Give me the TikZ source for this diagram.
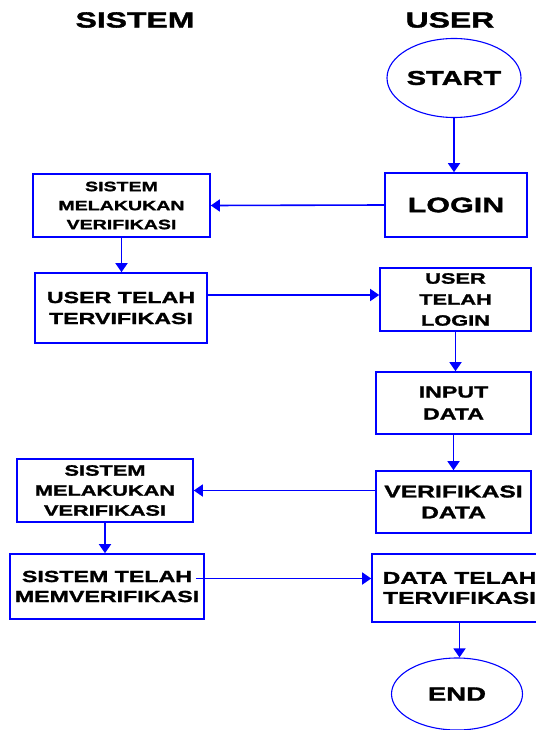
\documentclass[tikz,border=0pt]{standalone}
\usepackage{fontspec}
\usepackage{tikz}
\usetikzlibrary{shapes.geometric}
\usetikzlibrary{arrows.meta}
\newfontfamily\flowfont[FakeStretch=1.45,BoldFeatures={FakeBold=1.6}]{Liberation Sans}

\begin{document}
\begin{tikzpicture}[
        x=1pt, y=-1pt,
        every node/.style={align=center, inner sep=0pt},
        txt/.style 2 args={font=\flowfont\bfseries\fontsize{#1}{#2}\selectfont},
        procbox/.style={rectangle, draw=blue, line width=1.6pt},
        termnode/.style={ellipse, draw=blue, line width=1.1pt},
        flow/.style={draw=blue, line width=1.6pt, -{Triangle[length=9pt,width=12pt]}}
      ]
        \useasboundingbox (0,0) rectangle (535,730);

        \node[txt={22}{26}] (sistem) at (135,20) {SISTEM};
        \node[txt={22}{26}] (user) at (450,20) {USER};

        \node[termnode, txt={20}{24}, minimum width=134pt, minimum height=79pt] (start) at (454,78)
          {START};
        \node[procbox, txt={21}{24}, minimum width=142pt, minimum height=64pt] (login) at (456,205)
          {LOGIN};
        \node[procbox, txt={13.5}{19}, minimum width=177pt, minimum height=63pt] (verif1) at (121.5,205.5)
          {SISTEM\\MELAKUKAN\\VERIFIKASI};
        \node[procbox, txt={16}{21}, minimum width=172pt, minimum height=70pt] (utt) at (121,308)
          {USER TELAH\\TERVIFIKASI};
        \node[procbox, txt={15}{21}, minimum width=151pt, minimum height=63pt] (utl) at (455.5,299.5)
          {USER\\TELAH\\LOGIN};
        \node[procbox, txt={16}{22}, minimum width=155pt, minimum height=62pt] (input) at (453.5,403)
          {INPUT\\DATA};
        \node[procbox, txt={17}{21}, minimum width=155pt, minimum height=62pt] (vdata) at (453.5,502)
          {VERIFIKASI\\DATA};
        \node[procbox, txt={15}{20}, minimum width=176pt, minimum height=63pt] (verif2) at (105,490.5)
          {SISTEM\\MELAKUKAN\\VERIFIKASI};
        \node[procbox, txt={16}{20}, minimum width=194pt, minimum height=65pt] (stm) at (107,586.5)
          {SISTEM TELAH\\MEMVERIFIKASI};
        \node[procbox, txt={17}{20}, minimum width=175pt, minimum height=68pt] (dtt) at (459.5,588)
          {DATA TELAH\\TERVIFIKASI};
        \node[termnode, txt={19}{22}, minimum width=131pt, minimum height=72pt] (end) at (457,694)
          {END};

        % alur
        \draw[flow] (start.south) -- (start.south |- login.north);
        \draw[flow] (login.west) -- (verif1.east);
        \draw[flow] (verif1.south) -- (verif1.south |- utt.north);
        \draw[flow] ([yshift=13pt]utt.east) -- ([yshift=13pt]utt.east -| utl.west);
        \draw[flow] (utl.south) -- (utl.south |- input.north);
        \draw[flow] (input.south) -- (input.south |- vdata.north);
        \draw[flow] (vdata.west |- verif2.east) -- (verif2.east);
        \draw[flow] (verif2.south) -- (verif2.south |- stm.north);
        \draw[flow] ([xshift=-9pt,yshift=8pt]stm.east) -- ([yshift=8pt]stm.east -| dtt.west);
        \draw[flow] (dtt.south) -- (dtt.south |- end.north);
      \end{tikzpicture}
\end{document}
